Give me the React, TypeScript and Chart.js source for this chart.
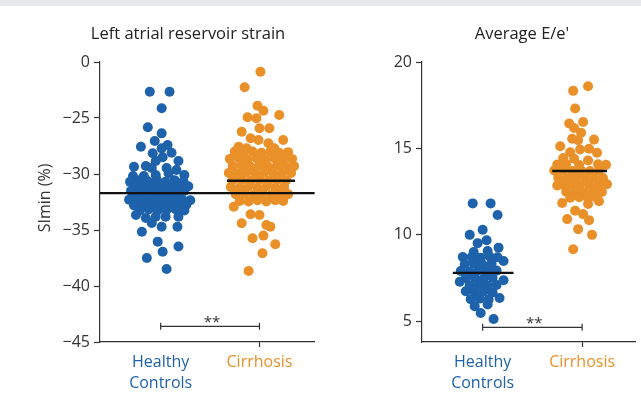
import React, { useEffect, useRef } from 'react';
import { Chart, registerables } from 'chart.js';

Chart.register(...registerables);

const FONT = "'Open Sans', 'Noto Sans', sans-serif";
const BLUE = '#1d62aa';
const ORANGE = '#ea9029';
const AXIS = '#333333';

const categories: string[][] = [['Healthy', 'Controls'], ['Cirrhosis']];

// Left panel: Left atrial reservoir strain (SImin %). Axis top is drawn as "0" (broken axis).
const strainTicks = [-45, -40, -35, -30, -25, -20];
// [offset from category centre, value]
const strainHealthy: [number, number][] = [
  [-0.11, -22.65], [0.09, -22.65], [0.01, -24.13], [-0.13, -25.83], [0.01, -26.37], [-0.06, -27.05],
  [-0.2, -27.56], [0.07, -27.41], [0.01, -27.71], [-0.08, -28.15], [0.11, -28.1], [0.02, -28.51],
  [0.18, -28.84], [-0.05, -28.84], [-0.27, -29.35], [-0.15, -29.29], [-0.09, -29.46], [0.06, -29.46],
  [0.16, -29.64], [-0.28, -30.18], [-0.17, -30.18], [-0.05, -30.09], [0.08, -29.94], [0.24, -30.09],
  [-0.31, -30.7], [-0.22, -30.55], [-0.13, -30.65], [-0.04, -30.5], [0.05, -30.7], [0.14, -30.55], [0.23, -30.65],
  [-0.26, -31.1], [-0.17, -31.0], [-0.08, -31.15], [0.01, -31.0], [0.1, -31.1], [0.19, -31.0], [0.28, -31.1],
  [-0.3, -31.5], [-0.21, -31.4], [-0.12, -31.55], [-0.03, -31.45], [0.06, -31.5], [0.15, -31.4], [0.24, -31.5],
  [-0.25, -31.9], [-0.16, -31.95], [-0.07, -31.85], [0.02, -31.95], [0.11, -31.85], [0.2, -31.95],
  [-0.32, -32.3], [-0.23, -32.4], [-0.14, -32.3], [-0.05, -32.4], [0.04, -32.3], [0.13, -32.4], [0.22, -32.3], [0.3, -32.35],
  [-0.27, -32.8], [-0.18, -32.75], [-0.09, -32.85], [0.0, -32.75], [0.09, -32.85], [0.18, -32.8], [0.26, -32.75],
  [-0.21, -33.25], [-0.12, -33.15], [-0.03, -33.25], [0.06, -33.2], [0.15, -33.15], [0.24, -33.25],
  [-0.25, -33.66], [-0.15, -33.93], [-0.05, -33.81], [0.05, -33.81], [0.18, -33.81], [-0.09, -34.38],
  [0.01, -34.71], [0.17, -34.71], [-0.19, -35.15], [-0.03, -36.04], [0.18, -36.47], [0.02, -36.94],
  [-0.14, -37.5], [0.06, -38.48],
];
const strainCirrhosis: [number, number][] = [
  [0.01, -20.87], [-0.15, -22.26], [-0.02, -23.9], [0.04, -24.35], [0.2, -24.73], [-0.12, -24.94],
  [-0.03, -25.03], [-0.18, -26.22], [0.0, -25.92], [0.1, -25.92], [-0.09, -26.81], [-0.01, -26.96],
  [0.24, -26.96], [0.09, -27.26], [-0.21, -27.56], [-0.13, -27.71], [0.15, -27.71],
  [-0.25, -28.0], [-0.16, -28.1], [-0.07, -28.0], [0.02, -28.1], [0.11, -28.0], [0.2, -28.1], [0.29, -28.05],
  [-0.3, -28.65], [-0.21, -28.6], [-0.12, -28.7], [-0.03, -28.6], [0.06, -28.7], [0.15, -28.6], [0.24, -28.7], [0.33, -28.65],
  [-0.27, -29.3], [-0.18, -29.25], [-0.09, -29.35], [0.0, -29.25], [0.09, -29.35], [0.18, -29.25], [0.27, -29.35], [0.35, -29.3],
  [-0.31, -29.9], [-0.22, -29.95], [-0.13, -29.85], [-0.04, -29.95], [0.05, -29.85], [0.14, -29.95], [0.23, -29.85], [0.32, -29.9],
  [-0.27, -30.55], [-0.18, -30.5], [-0.09, -30.6], [0.0, -30.5], [0.09, -30.6], [0.18, -30.5], [0.27, -30.55],
  [-0.29, -31.15], [-0.2, -31.2], [-0.11, -31.1], [-0.02, -31.2], [0.07, -31.1], [0.16, -31.2], [0.25, -31.15],
  [-0.24, -31.8], [-0.15, -31.75], [-0.06, -31.85], [0.03, -31.75], [0.12, -31.85], [0.21, -31.75], [0.29, -31.8],
  [-0.2, -32.4], [-0.11, -32.45], [-0.02, -32.35], [0.07, -32.45], [0.16, -32.35], [0.24, -32.4],
  [-0.26, -32.92], [-0.09, -33.6], [0.0, -33.66], [-0.18, -34.4], [0.07, -34.55], [0.11, -34.7],
  [-0.07, -35.74], [0.04, -35.5], [0.16, -36.28], [0.03, -37.08], [-0.11, -38.66],
];
const strainHealthyMean = -31.7;
const strainCirrhosisMean = -30.6;
const strainSigY = -43.6;

// Right panel: Average E/e'
const eeTicks = [5, 10, 15, 20];
const eeHealthy: [number, number][] = [
  [-0.1, 11.82], [0.08, 11.82], [0.15, 11.15], [0.0, 10.29], [-0.13, 10.0], [0.04, 9.69],
  [-0.05, 9.52], [0.16, 9.26], [-0.09, 9.01], [0.05, 9.07], [-0.2, 8.72], [0.21, 8.49],
  [-0.11, 8.72], [-0.02, 8.68], [0.07, 8.75], [0.15, 8.7],
  [-0.18, 8.31], [-0.09, 8.35], [0.0, 8.28], [0.09, 8.33],
  [-0.22, 7.91], [-0.13, 7.88], [-0.04, 7.95], [0.05, 7.9], [0.14, 7.93],
  [-0.17, 7.5], [-0.08, 7.53], [0.01, 7.47], [0.1, 7.52],
  [-0.13, 7.09], [-0.04, 7.12], [0.05, 7.06], [0.14, 7.1],
  [-0.08, 6.69], [0.01, 6.72], [0.1, 6.66],
  [-0.12, 6.28], [-0.03, 6.31], [0.06, 6.25],
  [0.21, 7.37], [-0.23, 7.29], [-0.17, 6.74], [0.17, 6.35], [-0.08, 5.87], [0.05, 5.97],
  [-0.02, 5.48], [0.11, 5.13],
];
const eeCirrhosis: [number, number][] = [
  [0.06, 18.6], [-0.09, 18.33], [-0.07, 17.31], [-0.13, 16.44], [0.01, 16.53], [-0.08, 16.18],
  [-0.01, 15.91], [-0.1, 15.56], [-0.04, 15.47], [0.12, 15.51], [-0.22, 15.13], [-0.12, 14.78],
  [-0.02, 14.94], [0.07, 14.98], [0.15, 14.75], [-0.19, 14.44], [-0.08, 14.4], [0.06, 14.3],
  [-0.25, 14.07], [-0.16, 14.1], [-0.03, 14.04], [0.16, 14.08], [0.24, 14.05],
  [-0.28, 13.72], [-0.19, 13.75], [-0.1, 13.7], [-0.01, 13.74], [0.08, 13.69], [0.17, 13.73],
  [-0.24, 13.31], [-0.15, 13.28], [-0.06, 13.34], [0.03, 13.3], [0.12, 13.33], [0.21, 13.29],
  [-0.2, 12.91], [-0.11, 12.94], [-0.02, 12.88], [0.07, 12.92], [0.16, 12.89], [0.25, 12.93],
  [-0.16, 12.5], [-0.07, 12.53], [0.02, 12.47], [0.11, 12.51], [0.2, 12.48],
  [-0.12, 12.15], [-0.03, 12.18], [0.06, 12.12], [0.14, 12.16],
  [0.17, 11.94], [-0.2, 11.84], [0.06, 11.78], [-0.07, 11.4], [0.01, 11.2], [-0.15, 10.91],
  [0.07, 10.85], [-0.04, 10.33], [0.1, 10.0], [-0.09, 9.17], [-0.25, 12.85],
];
const eeHealthyMean = 7.8;
const eeCirrhosisMean = 13.7;
const eeSigY = 4.65;
const sigLabel = '**';

type PanelSpec = {
  healthy: [number, number][];
  cirrhosis: [number, number][];
  xMin: number;
  xMax: number;
  yMin: number;
  yMax: number;
  ticks: number[];
  tickLabel: (v: number) => string;
  healthyMeanSpan: [number, number];
  cirrhosisMeanSpan: [number, number];
  healthyMean: number;
  cirrhosisMean: number;
  sigY: number;
  yWidth: number;
  title: string;
  titleX: number;
  yTitle?: string;
};

function makeChart(canvas: HTMLCanvasElement, p: PanelSpec) {
  const pts = (arr: [number, number][], c: number) => arr.map(([d, v]) => ({ x: c + d, y: v }));
  const textPlugin = {
    id: 'panelText',
    afterDraw(chart: any) {
      const ctx = chart.ctx as CanvasRenderingContext2D;
      ctx.save();
      ctx.fillStyle = '#222';
      ctx.font = `16.5px ${FONT}`;
      ctx.textAlign = 'center';
      ctx.textBaseline = 'alphabetic';
      ctx.fillText(p.title, p.titleX, 39);
      if (p.yTitle) {
        ctx.save();
        ctx.translate(45, 198);
        ctx.rotate(-Math.PI / 2);
        ctx.textBaseline = 'middle';
        ctx.fillStyle = '#333';
        ctx.font = `16px ${FONT}`;
        ctx.fillText(p.yTitle, 0, 0);
        ctx.restore();
      }
      const xs = chart.scales.x;
      const ys = chart.scales.y;
      ctx.font = `15px ${FONT}`;
      ctx.fillStyle = '#333';
      ctx.fillText(sigLabel, xs.getPixelForValue(1.52), ys.getPixelForValue(p.sigY) + 0.5);
      ctx.restore();
    },
  };
  return new Chart(canvas, {
    type: 'scatter',
    data: {
      datasets: [
        {
          type: 'line',
          data: [
            { x: p.healthyMeanSpan[0], y: p.healthyMean },
            { x: p.healthyMeanSpan[1], y: p.healthyMean },
          ],
          borderColor: '#111',
          borderWidth: 2.2,
          pointRadius: 0,
          fill: false,
          order: 0,
        } as any,
        {
          type: 'line',
          data: [
            { x: p.cirrhosisMeanSpan[0], y: p.cirrhosisMean },
            { x: p.cirrhosisMeanSpan[1], y: p.cirrhosisMean },
          ],
          borderColor: '#111',
          borderWidth: 2.5,
          pointRadius: 0,
          fill: false,
          order: 0,
        } as any,
        {
          type: 'line',
          data: [
            { x: 1, y: p.sigY },
            { x: 2, y: p.sigY },
          ],
          borderColor: '#333',
          borderWidth: 1.2,
          pointStyle: 'line',
          rotation: 90,
          pointRadius: 3.5,
          pointBorderColor: '#333',
          pointBorderWidth: 1.2,
          fill: false,
          order: 0,
        } as any,
        {
          data: pts(p.healthy, 1),
          pointRadius: 5,
          pointBackgroundColor: BLUE,
          pointBorderWidth: 0,
          borderWidth: 0,
          order: 2,
        },
        {
          data: pts(p.cirrhosis, 2),
          pointRadius: 5,
          pointBackgroundColor: ORANGE,
          pointBorderWidth: 0,
          borderWidth: 0,
          order: 1,
        },
      ],
    },
    options: {
      animation: false,
      responsive: false,
      events: [],
      layout: { padding: { top: 62, left: 0, right: 0, bottom: 0 } },
      plugins: { legend: { display: false }, tooltip: { enabled: false }, title: { display: false } },
      scales: {
        x: {
          type: 'linear',
          min: p.xMin,
          max: p.xMax,
          afterBuildTicks: (s: any) => {
            s.ticks = [{ value: 1 }, { value: 2 }];
          },
          afterFit: (s: any) => {
            s.height = 52;
          },
          ticks: {
            autoSkip: false,
            maxRotation: 0,
            padding: 5,
            font: { family: FONT, size: 16, lineHeight: 1.3 },
            color: (ctx: any) => (ctx.tick && ctx.tick.value === 1 ? BLUE : ORANGE),
            callback: (v: any) => categories[Math.round(Number(v)) - 1] as any,
          },
          grid: {
            drawOnChartArea: false,
            drawTicks: true,
            tickLength: 5,
            tickWidth: 1.2,
            tickColor: (ctx: any) => (ctx.tick && ctx.tick.value === 2 ? AXIS : 'rgba(0,0,0,0)'),
          },
          border: { color: AXIS, width: 1.2 },
        },
        y: {
          type: 'linear',
          min: p.yMin,
          max: p.yMax,
          afterBuildTicks: (s: any) => {
            s.ticks = p.ticks.map((v) => ({ value: v }));
          },
          afterFit: (s: any) => {
            s.width = p.yWidth;
          },
          ticks: {
            padding: 4,
            color: AXIS,
            font: { family: FONT, size: 16 },
            callback: (v: any) => p.tickLabel(Number(v)),
          },
          grid: {
            drawOnChartArea: false,
            drawTicks: true,
            tickLength: 6,
            tickWidth: 1.2,
            color: AXIS,
          },
          border: { color: AXIS, width: 1.2 },
        },
      },
    },
    plugins: [textPlugin],
  } as any);
}

export default function App() {
  const leftRef = useRef<HTMLCanvasElement>(null);
  const rightRef = useRef<HTMLCanvasElement>(null);

  useEffect(() => {
    const left = makeChart(leftRef.current!, {
      healthy: strainHealthy,
      cirrhosis: strainCirrhosis,
      xMin: 0.386,
      xMax: 2.56,
      yMin: -45,
      yMax: -20,
      ticks: strainTicks,
      tickLabel: (v) => (v === -20 ? '0' : '\u2212' + Math.abs(v)),
      healthyMeanSpan: [0.386, 2.56],
      cirrhosisMeanSpan: [1.67, 2.36],
      healthyMean: strainHealthyMean,
      cirrhosisMean: strainCirrhosisMean,
      sigY: strainSigY,
      yWidth: 100,
      title: 'Left atrial reservoir strain',
      titleX: 188,
      yTitle: 'SImin (%)',
    });
    const right = makeChart(rightRef.current!, {
      healthy: eeHealthy,
      cirrhosis: eeCirrhosis,
      xMin: 0.39,
      xMax: 2.54,
      yMin: 3.8,
      yMax: 20,
      ticks: eeTicks,
      tickLabel: (v) => String(v),
      healthyMeanSpan: [0.7, 1.31],
      cirrhosisMeanSpan: [1.7, 2.25],
      healthyMean: eeHealthyMean,
      cirrhosisMean: eeCirrhosisMean,
      sigY: eeSigY,
      yWidth: 102,
      title: "Average E/e'",
      titleX: 202,
    });
    return () => {
      left.destroy();
      right.destroy();
    };
  }, []);

  return (
    <div style={{ position: 'fixed', left: 0, top: 0, width: 641, height: 394, background: '#fff', overflow: 'hidden' }}>
      <div style={{ position: 'absolute', left: 0, top: 0, width: 641, height: 6, background: '#e6e8ea' }} />
      <canvas ref={leftRef} width={320} height={394} style={{ position: 'absolute', left: 0, top: 0 }} />
      <canvas ref={rightRef} width={321} height={394} style={{ position: 'absolute', left: 320, top: 0 }} />
    </div>
  );
}
